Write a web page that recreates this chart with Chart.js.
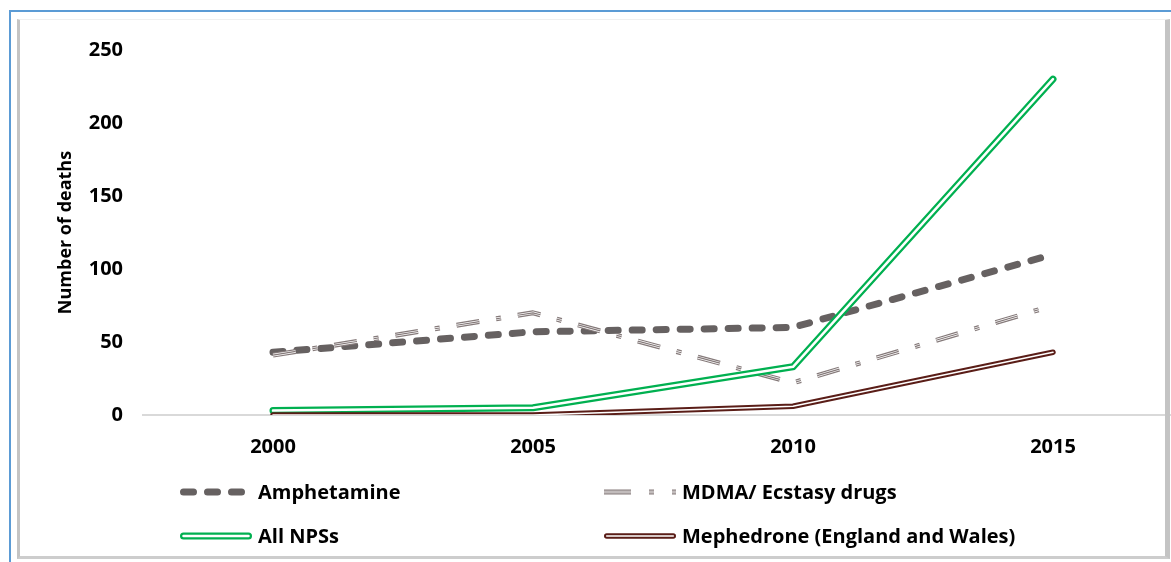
<!DOCTYPE html>
<html>
<head>
<meta charset="utf-8">
<title>Drug-related deaths</title>
<script src="https://cdn.jsdelivr.net/npm/chart.js@4.4.1/dist/chart.umd.min.js"></script>
<style>
  html, body { margin: 0; padding: 0; background: #fff; overflow: hidden; width: 1171px; height: 562px; }
  #wrap { position: absolute; left: 0; top: 0; width: 1200px; height: 562px; }
  .frame-top { position: absolute; left: 9px; top: 10px; right: 0; height: 2px; background: #5b9bd5; }
  .frame-left { position: absolute; left: 9px; top: 10px; bottom: 0; width: 2px; background: #5b9bd5; }
  .panel {
    position: absolute; left: 17px; top: 19px; width: 1145px; height: 536px;
    border-left: 3px solid #c4c4c4; border-top: 1px solid #f0f0f0;
    border-right: 5px solid #c4c4c4; border-bottom: 3px solid #cdcdcd;
    pointer-events: none;
  }
</style>
</head>
<body>
<div id="wrap"><canvas id="deaths"></canvas></div>
<div class="frame-top"></div>
<div class="frame-left"></div>
<div class="panel"></div>
<script>
// Deaths per year by substance
const years = ['2000', '2005', '2010', '2015'];
const amphetamine = [43, 57, 60, 110];
const mdmaEcstasy = [41, 70, 22, 75];
const allNps = [3, 5, 33, 230];
const mephedrone = [0, 0, 6, 43];
const seriesNames = ['Amphetamine', 'MDMA/ Ecstasy drugs', 'All NPSs', 'Mephedrone (England and Wales)'];
const yTicks = [0, 50, 100, 150, 200, 250];

const seriesValues = [amphetamine, mdmaEcstasy, allNps, mephedrone];

// Compound line styles: each series is stroked in several passes (outer colour, then inner white/colour)
const strokes = [
  { passes: [{ color: '#666161', width: 7 }], dash: [10, 14], keyDash: [10, 14], cap: 'round' },
  { passes: [{ color: '#857a7a', width: 5 }, { color: '#ffffff', width: 2.6 }, { color: '#857a7a', width: 1.2 }],
    dash: [23, 17, 5, 17], keyDash: [27, 18, 5, 18], cap: 'butt' },
  { passes: [{ color: '#00b050', width: 7 }, { color: '#ffffff', width: 2.5 }], dash: [], keyDash: [], cap: 'round' },
  { passes: [{ color: '#5a1d17', width: 5.5 }, { color: '#ffffff', width: 1.6 }], dash: [], keyDash: [], cap: 'round' }
];

const FAMILY = '"Open Sans", "Noto Sans", sans-serif';
const labelFont = { family: FAMILY, weight: 'bold', size: 20 };

const datasets = [];
seriesValues.forEach((values, i) => {
  strokes[i].passes.forEach((p, j) => {
    datasets.push({
      label: seriesNames[i],
      data: values,
      borderColor: p.color,
      borderWidth: p.width,
      borderDash: strokes[i].dash,
      borderCapStyle: strokes[i].cap,
      borderJoinStyle: 'round',
      pointRadius: 0,
      tension: 0,
      fill: false,
      clip: 0,
      // later series sit on top; inner passes sit on top of their outer pass
      order: (seriesValues.length - i) * 10 - j
    });
  });
});

// Two-column key drawn below the axis
const seriesKey = {
  id: 'seriesKey',
  afterDraw(chart, _args, opts) {
    const ctx = chart.ctx;
    seriesNames.forEach((name, i) => {
      const x = opts.columns[i % 2];
      const base = opts.rows[Math.floor(i / 2)];
      const y = base - opts.lineRise;
      const st = strokes[i];
      const inset = st.cap === 'round' ? st.passes[0].width / 2 : 0;
      ctx.save();
      st.passes.forEach(p => {
        ctx.beginPath();
        ctx.setLineDash(st.keyDash);
        ctx.lineCap = st.cap;
        ctx.strokeStyle = p.color;
        ctx.lineWidth = p.width;
        ctx.moveTo(x + inset, y);
        ctx.lineTo(x + opts.sample - inset, y);
        ctx.stroke();
      });
      ctx.setLineDash([]);
      ctx.fillStyle = '#000';
      ctx.font = 'bold 20px ' + FAMILY;
      ctx.textAlign = 'left';
      ctx.textBaseline = 'alphabetic';
      ctx.fillText(name, x + opts.textGap, base);
      ctx.restore();
    });
  }
};

new Chart(document.getElementById('deaths'), {
  type: 'line',
  data: { labels: years, datasets },
  options: {
    responsive: true,
    maintainAspectRatio: false,
    animation: false,
    events: [],
    layout: { padding: { top: 50, right: 17, bottom: 87, left: 0 } },
    plugins: {
      legend: { display: false },
      tooltip: { enabled: false },
      seriesKey: { columns: [180, 604], rows: [499, 543], lineRise: 7, sample: 72, textGap: 78 }
    },
    scales: {
      x: {
        offset: true,
        grid: { display: false },
        border: { display: true, color: '#d9d9d9', width: 2 },
        ticks: { color: '#000', font: labelFont, padding: 12, maxRotation: 0 },
        afterFit: s => { s.height = 60; }
      },
      y: {
        min: 0,
        max: 250,
        grid: { display: false },
        border: { display: false },
        ticks: { color: '#000', font: labelFont, padding: 12 },
        afterBuildTicks: s => { s.ticks = yTicks.map(v => ({ value: v })); },
        title: {
          display: true,
          text: 'Number of deaths',
          color: '#000',
          font: { family: FAMILY, weight: 'bold', size: 18 },
          padding: { top: 55, bottom: 0 }
        },
        afterFit: s => { s.width = 143; }
      }
    }
  },
  plugins: [seriesKey]
});
</script>
</body>
</html>
